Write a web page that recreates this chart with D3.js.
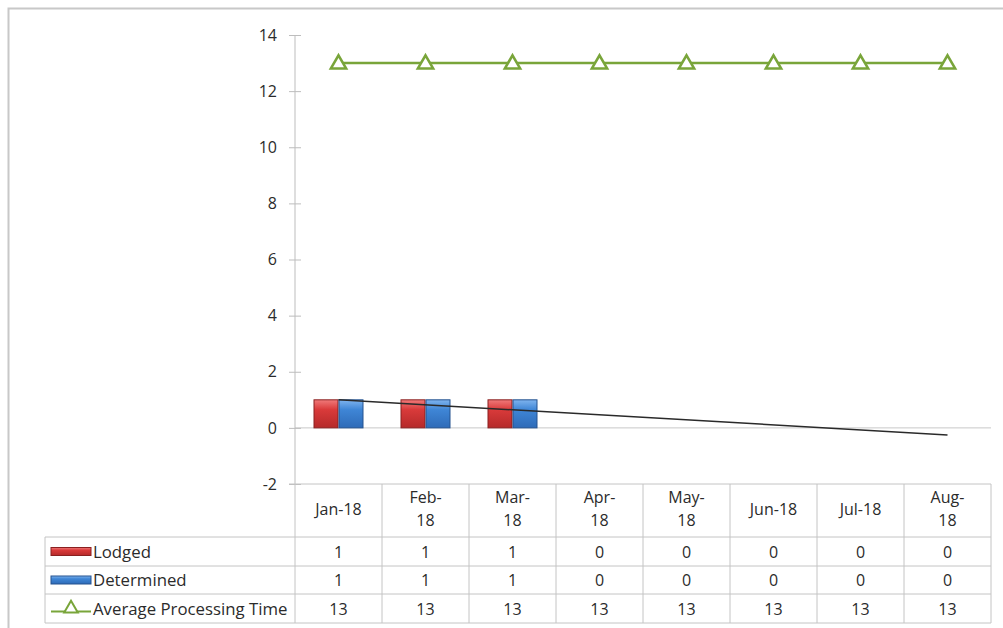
<!DOCTYPE html>
<html><head><meta charset="utf-8">
<script src="https://cdn.jsdelivr.net/npm/d3@7/dist/d3.min.js"></script>
<style>body{margin:0;background:#fff}svg{display:block}text{font-family:"Open Sans","Noto Sans",sans-serif;fill:#2b2b2b}</style>
</head><body><svg id="c" width="1003" height="628"></svg>
<script>
const categories = ["Jan-18","Feb-18","Mar-18","Apr-18","May-18","Jun-18","Jul-18","Aug-18"];
const headerLines = [["Jan-18"],["Feb-","18"],["Mar-","18"],["Apr-","18"],["May-","18"],["Jun-18"],["Jul-18"],["Aug-","18"]];
const lodged = [1,1,1,0,0,0,0,0];
const determined = [1,1,1,0,0,0,0,0];
const avgTime = [13,13,13,13,13,13,13,13];
const yTicks = [-2,0,2,4,6,8,10,12,14];
const seriesNames = ["Lodged","Determined","Average Processing Time"];

const FONT = "'Open Sans','Noto Sans',sans-serif";
const svg = d3.select("#c");
const defs = svg.append("defs");
function grad(id, light, mid, dark){
  const g = defs.append("linearGradient").attr("id",id).attr("x1",0).attr("y1",0).attr("x2",0).attr("y2",1);
  g.append("stop").attr("offset","0%").attr("stop-color",light);
  g.append("stop").attr("offset","35%").attr("stop-color",mid);
  g.append("stop").attr("offset","100%").attr("stop-color",dark);
}
grad("gRed","#f07a7a","#d93a3a","#b52a2a");
grad("gBlue","#7fb4ee","#3f86d6","#2e6bb8");

// outer border
svg.append("path").attr("d","M8.5,640 V8.5 H1010").attr("fill","none").attr("stroke","#c8c8c8").attr("stroke-width",2);

const x = d3.scaleBand().domain(categories).range([295,991]).padding(0);
const y = d3.scaleLinear().domain([-2,14]).range([484,35]);
const inner = d3.scaleBand().domain(["L","D"]).range([0,50]);
const barOff = (x.bandwidth()-50)/2;

// zero line
svg.append("line").attr("x1",295).attr("x2",991).attr("y1",y(0)).attr("y2",y(0)).attr("stroke","#c8c8c8").attr("stroke-width",1);

// y axis
const ax = svg.append("g").attr("transform","translate(295,0)")
  .call(d3.axisLeft(y).tickValues(yTicks).tickSize(6).tickPadding(12).tickFormat(d=>String(d)));
ax.select(".domain").attr("stroke","#bdbdbd").attr("d",`M0,${y(14)}V${y(-2)}`);
ax.selectAll(".tick line").attr("stroke","#bdbdbd").attr("x1",-6).attr("x2",6);
ax.selectAll(".tick text").style("font-size","16px").attr("fill","#2b2b2b").attr("font-family",FONT);

// bars
const g = svg.append("g");
categories.forEach((c,i)=>{
  [["L",lodged[i],"url(#gRed)","#8a2020"],["D",determined[i],"url(#gBlue)","#24528f"]].forEach(([k,v,f,s])=>{
    if(v===0) return;
    g.append("rect").attr("x",x(c)+barOff+inner(k)+0.5).attr("width",inner.bandwidth()-1)
     .attr("y",y(v)).attr("height",y(0)-y(v)).attr("fill",f).attr("stroke",s).attr("stroke-width",1);
  });
});

// linear trendline of Lodged
const n = lodged.length, xs = d3.range(1,n+1);
const mx = d3.mean(xs), my = d3.mean(lodged);
const slope = d3.sum(xs,(xi,i)=>(xi-mx)*(lodged[i]-my))/d3.sum(xs,xi=>(xi-mx)**2);
const icpt = my - slope*mx;
svg.append("line")
  .attr("x1",x(categories[0])+x.bandwidth()/2).attr("y1",y(icpt+slope*1))
  .attr("x2",x(categories[n-1])+x.bandwidth()/2).attr("y2",y(icpt+slope*n))
  .attr("stroke","#2a2a2a").attr("stroke-width",1.5);

// average processing time line
const green = "#79a53a";
const line = d3.line().x((d,i)=>x(categories[i])+x.bandwidth()/2).y(d=>y(d));
svg.append("path").datum(avgTime).attr("d",line).attr("fill","none").attr("stroke",green).attr("stroke-width",2.5);
const tri = d3.symbol().type(d3.symbolTriangle).size(100);
svg.selectAll(".m").data(avgTime).enter().append("path")
  .attr("transform",(d,i)=>`translate(${x(categories[i])+x.bandwidth()/2},${y(d)+1})`)
  .attr("d",tri()).attr("fill","#fff").attr("stroke",green).attr("stroke-width",2.6);

// data table
const tc = "#c4c4c4";
const rowsY = [484,537,566,594,623];
const tbl = svg.append("g");
tbl.append("line").attr("x1",289).attr("x2",991).attr("y1",rowsY[0]).attr("y2",rowsY[0]).attr("stroke",tc);
for(let r=1;r<rowsY.length;r++){
  tbl.append("line").attr("x1",45).attr("x2",991).attr("y1",rowsY[r]).attr("y2",rowsY[r]).attr("stroke",tc);
}
tbl.append("line").attr("x1",45).attr("x2",45).attr("y1",rowsY[1]).attr("y2",rowsY[4]).attr("stroke",tc);
categories.forEach(c=>{
  tbl.append("line").attr("x1",x(c)).attr("x2",x(c)).attr("y1",rowsY[0]).attr("y2",rowsY[4]).attr("stroke",tc);
});
tbl.append("line").attr("x1",991).attr("x2",991).attr("y1",rowsY[0]).attr("y2",rowsY[4]).attr("stroke",tc);

categories.forEach((c,i)=>{
  const cx = x(c)+x.bandwidth()/2;
  const lines = headerLines[i];
  const t = tbl.append("text").attr("text-anchor","middle").style("font-size","16px");
  if(lines.length===1){
    t.append("tspan").attr("x",cx).attr("y",515).text(lines[0]);
  } else {
    t.append("tspan").attr("x",cx).attr("y",503).text(lines[0]);
    t.append("tspan").attr("x",cx).attr("y",526).text(lines[1]);
  }
  [lodged[i],determined[i],avgTime[i]].forEach((v,r)=>{
    tbl.append("text").attr("x",cx).attr("y",(rowsY[r+1]+rowsY[r+2])/2+6)
      .attr("text-anchor","middle").style("font-size","16px").text(v);
  });
});

// legend keys in table
const ky = r=>(rowsY[r+1]+rowsY[r+2])/2;
tbl.append("rect").attr("x",51).attr("y",ky(0)-4).attr("width",40).attr("height",8).attr("fill","url(#gRed)").attr("stroke","#8a2020");
tbl.append("rect").attr("x",51).attr("y",ky(1)-4).attr("width",40).attr("height",8).attr("fill","url(#gBlue)").attr("stroke","#24528f");
tbl.append("line").attr("x1",51).attr("x2",91).attr("y1",ky(2)+3).attr("y2",ky(2)+3).attr("stroke",green).attr("stroke-width",2);
tbl.append("path").attr("transform",`translate(71,${ky(2)})`).attr("d",d3.symbol().type(d3.symbolTriangle).size(80)()).attr("fill","#fff").attr("stroke",green).attr("stroke-width",2);
seriesNames.forEach((s,r)=>{
  tbl.append("text").attr("x",93).attr("y",ky(r)+6).style("font-size","16.8px").text(s);
});
</script></body></html>
